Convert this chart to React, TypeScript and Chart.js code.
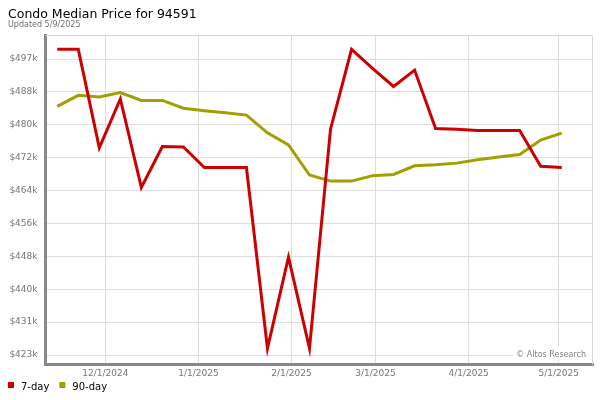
import React, { useEffect, useRef } from "react";
import { Chart, registerables } from "chart.js";

Chart.register(...registerables);

const weekDates = [
  "2024-11-15", "2024-11-22", "2024-11-29", "2024-12-06", "2024-12-13", "2024-12-20", "2024-12-27",
  "2025-01-03", "2025-01-10", "2025-01-17", "2025-01-24", "2025-01-31", "2025-02-07", "2025-02-14",
  "2025-02-21", "2025-02-28", "2025-03-07", "2025-03-14", "2025-03-21", "2025-03-28", "2025-04-04",
  "2025-04-11", "2025-04-18", "2025-04-25", "2025-05-02",
];

// values in $k
const sevenDay = [
  499.5, 499.5, 475.1, 487.2, 465.3, 475.4, 475.3, 470.2, 470.2, 470.2, 425.4, 448.0, 425.4,
  479.7, 499.5, 494.8, 490.3, 494.35, 479.9, 479.7, 479.4, 479.4, 479.4, 470.5, 470.2,
];
const ninetyDay = [
  485.35, 488.1, 487.7, 488.8, 486.85, 486.85, 484.9, 484.3, 483.8, 483.2, 478.8, 475.8, 468.35,
  466.85, 466.85, 468.2, 468.5, 470.65, 470.9, 471.3, 472.15, 472.8, 473.45, 477.0, 478.75,
];

const xTickDates = ["2024-12-01", "2025-01-01", "2025-02-01", "2025-03-01", "2025-04-01", "2025-05-01"];
const xTickLabels = ["12/1/2024", "1/1/2025", "2/1/2025", "3/1/2025", "4/1/2025", "5/1/2025"];

const yTickValues = [423.75, 431.9, 440.05, 448.2, 456.35, 464.5, 472.65, 480.8, 488.95, 497.1];
const yTickLabels = ["$423k", "$431k", "$440k", "$448k", "$456k", "$464k", "$472k", "$480k", "$488k", "$497k"];

const titleText = "Condo Median Price for 94591";
const subtitleText = "Updated 5/9/2025";
const watermarkText = "\u00a9 Altos Research";

const RED = "#cc0000";
const OLIVE = "#a0a000";
const FONT = "'DejaVu Sans', Verdana, sans-serif";

const ORIGIN = Date.UTC(2024, 11, 1);
const toDay = (s: string) => {
  const [y, m, d] = s.split("-").map(Number);
  return Math.round((Date.UTC(y, m - 1, d) - ORIGIN) / 86400000);
};

const decorPlugin = {
  id: "decor",
  beforeDatasetsDraw(chart: any) {
    const { ctx, chartArea } = chart;
    ctx.save();
    ctx.strokeStyle = "#d8d8d8";
    ctx.lineWidth = 1;
    ctx.beginPath();
    ctx.moveTo(chartArea.left, chartArea.top + 0.5);
    ctx.lineTo(chartArea.right - 0.5, chartArea.top + 0.5);
    ctx.lineTo(chartArea.right - 0.5, chartArea.bottom);
    ctx.stroke();
    // watermark
    ctx.font = `8px ${FONT}`;
    const w = ctx.measureText(watermarkText).width;
    ctx.fillStyle = "#ffffff";
    ctx.fillRect(chartArea.right - 7 - w - 3, chartArea.bottom - 18, w + 9, 14);
    ctx.fillStyle = "#808080";
    ctx.textAlign = "right";
    ctx.textBaseline = "alphabetic";
    ctx.fillText(watermarkText, chartArea.right - 7, chartArea.bottom - 8);
    ctx.restore();
  },
  afterDraw(chart: any) {
    const { ctx } = chart;
    ctx.save();
    ctx.textAlign = "left";
    ctx.textBaseline = "alphabetic";
    ctx.fillStyle = "#000000";
    ctx.font = `12.5px ${FONT}`;
    ctx.fillText(titleText, 8, 18);
    ctx.fillStyle = "#707070";
    ctx.font = `8px ${FONT}`;
    ctx.fillText(subtitleText, 8, 27);
    // legend
    let x = 8;
    ctx.font = `10px ${FONT}`;
    chart.data.datasets.forEach((ds: any) => {
      ctx.fillStyle = ds.borderColor;
      ctx.fillRect(x, 382, 6, 6);
      ctx.fillStyle = "#000000";
      ctx.fillText(ds.label, x + 13, 390);
      x += 13 + ctx.measureText(ds.label).width + 10;
    });
    ctx.restore();
  },
};

export default function App() {
  const ref = useRef<HTMLCanvasElement>(null);
  useEffect(() => {
    if (!ref.current) return;
    const xs = weekDates.map(toDay);
    const xTicks = xTickDates.map(toDay);
    const chart = new Chart(ref.current, {
      type: "line",
      data: {
        datasets: [
          {
            label: "7-day",
            data: xs.map((x, i) => ({ x, y: sevenDay[i] })),
            borderColor: RED,
            backgroundColor: RED,
            borderWidth: 3,
            pointRadius: 0,
            tension: 0,
            borderJoinStyle: "miter",
          },
          {
            label: "90-day",
            data: xs.map((x, i) => ({ x, y: ninetyDay[i] })),
            borderColor: OLIVE,
            backgroundColor: OLIVE,
            borderWidth: 3,
            pointRadius: 0,
            tension: 0,
            borderJoinStyle: "miter",
          },
        ],
      },
      options: {
        animation: false,
        responsive: false,
        events: [],
        layout: { padding: { top: 35, right: 7, bottom: 15.5, left: 0 } },
        plugins: { legend: { display: false }, title: { display: false }, tooltip: { enabled: false } },
        scales: {
          x: {
            type: "linear",
            min: -19.92,
            max: 162.42,
            afterBuildTicks: (axis: any) => {
              axis.ticks = xTicks.map((v) => ({ value: v }));
            },
            afterFit: (axis: any) => {
              axis.height = 20;
            },
            grid: { color: "#dddddd", drawTicks: false },
            border: { color: "#888888", width: 3 },
            ticks: {
              font: { family: FONT, size: 9 },
              color: "#777777",
              padding: 4,
              maxRotation: 0,
              autoSkip: false,
              callback: (_v: any, i: number) => xTickLabels[i],
            },
          },
          y: {
            type: "linear",
            min: 421.4,
            max: 503.05,
            afterBuildTicks: (axis: any) => {
              axis.ticks = yTickValues.map((v) => ({ value: v }));
            },
            afterFit: (axis: any) => {
              axis.width = 45.5;
            },
            grid: { color: "#dddddd", drawTicks: false },
            border: { color: "#888888", width: 3 },
            ticks: {
              font: { family: FONT, size: 9 },
              color: "#777777",
              padding: 8,
              autoSkip: false,
              callback: (_v: any, i: number) => yTickLabels[i],
            },
          },
        },
      } as any,
      plugins: [decorPlugin],
    });
    return () => chart.destroy();
  }, []);
  return (
    <div style={{ position: "absolute", left: 0, top: 0, width: 600, height: 400, background: "#fff" }}>
      <canvas ref={ref} width={600} height={400} style={{ width: 600, height: 400, display: "block" }} />
    </div>
  );
}
